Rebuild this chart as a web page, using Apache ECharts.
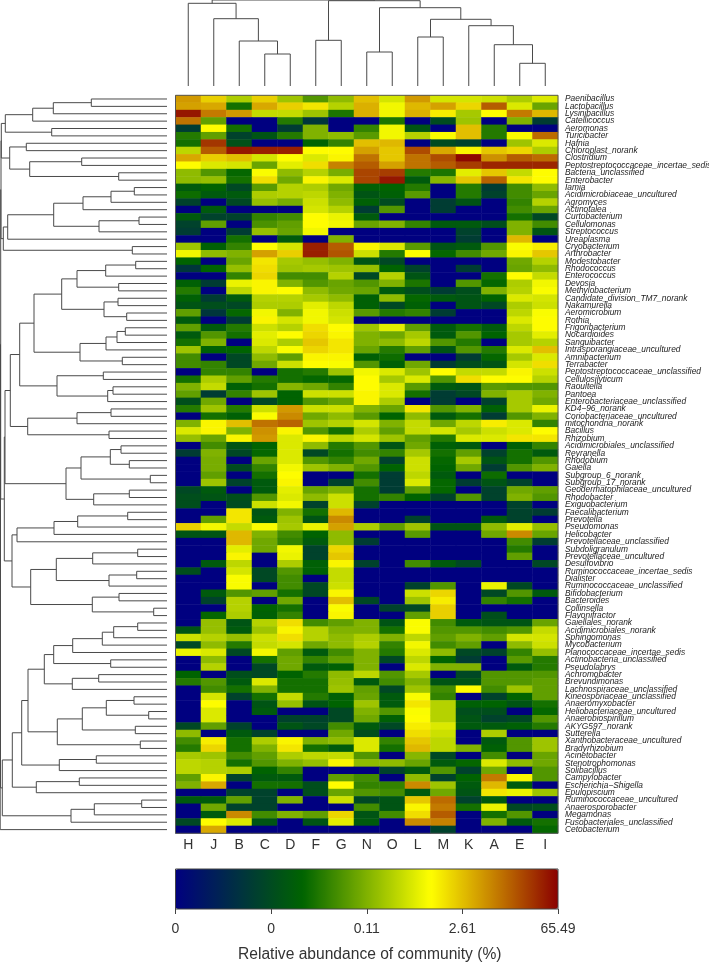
<!DOCTYPE html>
<html>
<head>
<meta charset="utf-8">
<title>Relative abundance of community</title>
<style>
  html, body { margin: 0; padding: 0; background: #fff; }
  #chart { width: 709px; height: 962px; }
</style>
<script src="https://cdn.jsdelivr.net/npm/echarts@6/dist/echarts.min.js"></script>
</head>
<body>
<div id="chart"></div>
<script>
const columns = ['H', 'J', 'B', 'C', 'D', 'F', 'G', 'N', 'O', 'L', 'M', 'K', 'A', 'E', 'I']

const genera = [
  'Paenibacillus', 'Lactobacillus', 'Lysinibacillus', 'Catellicoccus', 'Aeromonas',
  'Turicibacter', 'Hafnia', 'Chloroplast_norank', 'Clostridium', 'Peptostreptococcaceae_incertae_sedis',
  'Bacteria_unclassified', 'Enterobacter', 'Iamia', 'Acidimicrobiaceae_uncultured', 'Agromyces',
  'Actinotalea', 'Curtobacterium', 'Cellulomonas', 'Streptococcus', 'Ureaplasma',
  'Cryobacterium', 'Arthrobacter', 'Modestobacter', 'Rhodococcus', 'Enterococcus',
  'Devosia', 'Methylobacterium', 'Candidate_division_TM7_norank', 'Nakamurella', 'Aeromicrobium',
  'Rothia', 'Frigoribacterium', 'Nocardioides', 'Sanguibacter', 'Intrasporangiaceae_uncultured',
  'Amnibacterium', 'Terrabacter', 'Peptostreptococcaceae_unclassified', 'Cellulosilyticum', 'Raoultella',
  'Pantoea', 'Enterobacteriaceae_unclassified', 'KD4\u221296_norank', 'Coriobacteriaceae_uncultured', 'mitochondria_norank',
  'Bacillus', 'Rhizobium', 'Acidimicrobiales_unclassified', 'Reyranella', 'Rhodobium',
  'Gaiella', 'Subgroup_6_norank', 'Subgroup_17_norank', 'Geodermatophilaceae_uncultured', 'Rhodobacter',
  'Exiguobacterium', 'Faecalibacterium', 'Prevotella', 'Pseudomonas', 'Helicobacter',
  'Prevotellaceae_unclassified', 'Subdoligranulum', 'Prevotellaceae_uncultured', 'Desulfovibrio', 'Ruminococcaceae_incertae_sedis',
  'Dialister', 'Ruminococcaceae_unclassified', 'Bifidobacterium', 'Bacteroides', 'Collinsella',
  'Flavonifractor', 'Gaiellales_norank', 'Acidimicrobiales_norank', 'Sphingomonas', 'Mycobacterium',
  'Planococcaceae_incertae_sedis', 'Actinobacteria_unclassified', 'Pseudolabrys', 'Achromobacter', 'Brevundimonas',
  'Lachnospiraceae_unclassified', 'Kineosporiaceae_unclassified', 'Anaeromyxobacter', 'Heliobacteriaceae_uncultured', 'Anaerobiospirillum',
  'AKYG597_norank', 'Sutterella', 'Xanthobacteraceae_uncultured', 'Bradyrhizobium', 'Acinetobacter',
  'Stenotrophomonas', 'Solibacillus', 'Campylobacter', 'Escherichia\u2212Shigella', 'Epulopiscium',
  'Ruminococcaceae_uncultured', 'Anaerosporobacter', 'Megamonas', 'Fusobacteriales_unclassified', 'Cetobacterium',
]

// position on the colour bar, 0-100, one row per genus
const abundance = [
  [80, 73, 56, 73, 54, 44, 52, 75, 61, 80, 61, 61, 60, 56, 62],
  [79, 78, 36, 78, 73, 70, 57, 77, 65, 76, 79, 72, 88, 62, 47],
  [97, 84, 80, 59, 59, 54, 37, 77, 65, 77, 69, 55, 67, 84, 76],
  [85, 46, 0, 0, 38, 18, 0, 0, 37, 0, 25, 54, 0, 50, 20],
  [20, 67, 36, 0, 20, 50, 0, 40, 65, 28, 0, 75, 38, 0, 0],
  [38, 46, 22, 28, 38, 50, 52, 45, 65, 57, 66, 75, 38, 66, 86],
  [36, 93, 27, 0, 0, 33, 40, 75, 76, 0, 25, 22, 0, 54, 62],
  [58, 88, 97, 96, 96, 67, 67, 79, 74, 90, 78, 68, 74, 72, 56],
  [78, 73, 75, 61, 67, 62, 68, 85, 74, 85, 90, 99, 81, 88, 86],
  [67, 62, 61, 47, 63, 71, 83, 88, 79, 85, 88, 92, 95, 95, 95],
  [52, 44, 34, 66, 52, 57, 49, 91, 92, 38, 37, 63, 74, 59, 67],
  [52, 53, 36, 71, 48, 68, 62, 91, 97, 30, 51, 74, 87, 70, 67],
  [30, 33, 24, 45, 57, 56, 48, 32, 33, 38, 0, 38, 20, 42, 52],
  [35, 30, 30, 56, 57, 58, 50, 28, 32, 45, 0, 38, 22, 42, 47],
  [22, 0, 24, 53, 49, 60, 52, 32, 25, 0, 20, 28, 0, 40, 57],
  [0, 30, 0, 0, 0, 61, 57, 20, 44, 0, 20, 0, 0, 42, 47],
  [30, 22, 22, 40, 42, 67, 64, 30, 0, 0, 0, 0, 0, 36, 24],
  [22, 46, 0, 43, 46, 67, 65, 47, 50, 40, 30, 30, 26, 50, 42],
  [20, 0, 20, 53, 47, 65, 0, 0, 0, 0, 0, 22, 0, 50, 28],
  [0, 0, 36, 0, 30, 0, 50, 0, 0, 0, 0, 20, 0, 76, 0],
  [54, 32, 40, 67, 61, 96, 88, 68, 62, 45, 28, 30, 44, 66, 69],
  [65, 52, 50, 79, 73, 96, 89, 60, 38, 67, 34, 42, 48, 68, 74],
  [33, 0, 47, 70, 55, 53, 50, 28, 24, 0, 0, 0, 0, 48, 57],
  [18, 33, 53, 71, 54, 55, 54, 53, 33, 22, 0, 20, 0, 47, 52],
  [0, 0, 40, 72, 42, 42, 57, 24, 57, 28, 0, 0, 36, 67, 59],
  [32, 20, 64, 68, 50, 44, 47, 44, 50, 37, 0, 44, 34, 56, 65],
  [38, 0, 58, 68, 67, 52, 48, 47, 30, 26, 20, 26, 50, 57, 66],
  [32, 20, 30, 57, 57, 55, 52, 32, 52, 34, 30, 28, 33, 62, 61],
  [28, 26, 24, 56, 56, 63, 58, 32, 24, 32, 0, 28, 24, 56, 60],
  [46, 18, 34, 65, 50, 65, 60, 45, 38, 40, 20, 0, 0, 58, 66],
  [30, 0, 20, 68, 61, 65, 61, 0, 0, 0, 0, 0, 0, 62, 67],
  [46, 30, 38, 60, 57, 71, 67, 54, 63, 46, 30, 36, 30, 58, 67],
  [30, 44, 36, 63, 67, 72, 68, 50, 48, 55, 30, 44, 33, 55, 63],
  [36, 50, 0, 62, 56, 74, 70, 50, 52, 58, 44, 38, 0, 55, 57],
  [54, 32, 33, 58, 66, 72, 70, 47, 38, 46, 28, 44, 38, 62, 75],
  [42, 0, 24, 52, 46, 68, 68, 32, 35, 0, 0, 20, 34, 55, 62],
  [42, 40, 24, 48, 60, 67, 66, 44, 32, 48, 20, 26, 28, 61, 71],
  [0, 40, 40, 0, 36, 38, 54, 65, 62, 54, 67, 59, 59, 68, 60],
  [36, 56, 46, 38, 36, 34, 34, 67, 55, 62, 44, 71, 67, 67, 57],
  [50, 59, 32, 36, 51, 48, 40, 67, 62, 45, 30, 28, 45, 44, 44],
  [46, 20, 40, 54, 33, 60, 60, 68, 62, 36, 20, 24, 50, 55, 50],
  [26, 48, 0, 24, 33, 44, 47, 68, 56, 0, 20, 0, 22, 55, 48],
  [38, 54, 38, 60, 80, 60, 60, 50, 47, 70, 44, 50, 32, 55, 64],
  [0, 36, 32, 66, 82, 48, 52, 45, 33, 52, 30, 36, 20, 44, 50],
  [50, 68, 75, 85, 87, 54, 57, 61, 50, 59, 48, 58, 69, 62, 40],
  [62, 68, 50, 81, 68, 44, 36, 56, 46, 59, 61, 55, 60, 62, 67],
  [53, 47, 68, 80, 62, 68, 58, 61, 54, 46, 38, 62, 62, 70, 70],
  [0, 42, 28, 33, 62, 52, 38, 44, 28, 48, 32, 30, 0, 32, 40],
  [20, 50, 24, 34, 62, 24, 36, 42, 40, 55, 36, 46, 22, 36, 30],
  [0, 49, 0, 47, 62, 44, 40, 48, 22, 60, 34, 55, 28, 36, 44],
  [0, 49, 25, 40, 65, 54, 50, 44, 33, 60, 33, 48, 20, 44, 50],
  [0, 46, 0, 36, 67, 0, 0, 36, 20, 58, 30, 0, 35, 0, 0],
  [0, 54, 22, 30, 68, 0, 22, 42, 20, 62, 34, 20, 28, 22, 0],
  [24, 30, 0, 30, 63, 47, 50, 36, 20, 46, 34, 0, 22, 48, 46],
  [26, 28, 26, 44, 62, 52, 60, 36, 40, 33, 22, 44, 22, 50, 44],
  [26, 0, 25, 60, 65, 22, 60, 22, 0, 0, 0, 0, 0, 22, 0],
  [0, 0, 70, 28, 50, 36, 76, 0, 0, 0, 0, 0, 0, 22, 20],
  [0, 46, 70, 30, 54, 28, 82, 0, 0, 22, 0, 0, 30, 22, 0],
  [73, 65, 59, 66, 55, 64, 79, 56, 46, 54, 28, 28, 52, 63, 53],
  [28, 28, 76, 50, 42, 33, 52, 0, 0, 45, 0, 0, 48, 82, 47],
  [0, 0, 76, 48, 40, 30, 52, 20, 0, 0, 0, 0, 0, 42, 20],
  [0, 0, 63, 48, 65, 22, 72, 0, 0, 0, 0, 0, 0, 38, 0],
  [0, 0, 68, 0, 64, 22, 74, 0, 0, 0, 0, 0, 0, 46, 0],
  [0, 30, 58, 0, 56, 32, 68, 22, 0, 42, 30, 24, 0, 0, 24],
  [26, 0, 61, 24, 44, 32, 59, 0, 0, 0, 0, 0, 0, 0, 0],
  [0, 0, 66, 24, 42, 0, 59, 0, 0, 0, 0, 0, 0, 0, 0],
  [0, 0, 66, 0, 42, 24, 60, 0, 0, 22, 44, 0, 64, 24, 0],
  [0, 30, 44, 46, 36, 24, 68, 0, 0, 60, 72, 0, 24, 44, 30],
  [0, 22, 57, 0, 48, 0, 75, 24, 0, 54, 69, 0, 40, 36, 0],
  [0, 0, 57, 33, 36, 0, 66, 0, 22, 24, 73, 0, 0, 0, 0],
  [0, 34, 56, 32, 40, 0, 68, 0, 0, 46, 73, 0, 26, 0, 0],
  [0, 53, 28, 57, 71, 42, 46, 50, 28, 66, 42, 30, 28, 28, 47],
  [28, 53, 30, 54, 68, 57, 50, 50, 36, 66, 44, 44, 42, 44, 59],
  [60, 57, 53, 60, 71, 57, 52, 56, 50, 58, 46, 50, 46, 61, 61],
  [24, 52, 38, 59, 61, 48, 52, 57, 40, 65, 42, 46, 0, 52, 60],
  [64, 62, 24, 65, 46, 30, 42, 50, 38, 62, 52, 24, 22, 40, 53],
  [0, 52, 0, 36, 48, 40, 46, 50, 24, 58, 33, 20, 0, 45, 38],
  [0, 57, 0, 24, 48, 30, 32, 50, 0, 62, 50, 50, 0, 30, 38],
  [33, 0, 26, 24, 33, 38, 52, 58, 44, 55, 0, 24, 44, 44, 44],
  [38, 44, 30, 62, 36, 36, 53, 30, 42, 50, 28, 28, 44, 44, 46],
  [0, 42, 36, 50, 36, 36, 54, 46, 24, 54, 42, 67, 42, 54, 46],
  [0, 61, 22, 36, 59, 38, 32, 47, 30, 66, 40, 0, 22, 33, 46],
  [0, 67, 0, 28, 53, 28, 33, 54, 30, 70, 57, 32, 33, 28, 36],
  [0, 62, 0, 30, 0, 0, 24, 50, 44, 66, 57, 26, 26, 0, 34],
  [0, 62, 0, 0, 22, 22, 24, 48, 32, 67, 57, 28, 22, 24, 44],
  [24, 46, 22, 0, 28, 24, 42, 30, 24, 69, 62, 30, 30, 32, 38],
  [52, 0, 30, 22, 0, 0, 48, 26, 0, 71, 60, 0, 56, 0, 0],
  [42, 69, 36, 56, 68, 50, 52, 62, 40, 74, 58, 0, 30, 44, 54],
  [38, 72, 36, 50, 70, 36, 30, 62, 36, 76, 58, 50, 32, 44, 54],
  [55, 54, 42, 46, 56, 58, 59, 44, 0, 51, 24, 0, 42, 0, 47],
  [58, 57, 36, 44, 50, 53, 68, 52, 52, 47, 30, 34, 62, 52, 48],
  [58, 57, 56, 33, 40, 0, 0, 0, 22, 30, 44, 22, 48, 0, 44],
  [46, 68, 22, 30, 30, 0, 46, 42, 0, 52, 22, 33, 84, 68, 44],
  [50, 78, 0, 36, 36, 26, 67, 40, 40, 82, 54, 30, 76, 30, 0],
  [0, 0, 22, 22, 0, 26, 47, 44, 42, 30, 48, 28, 70, 64, 54],
  [30, 30, 46, 22, 50, 0, 60, 24, 28, 74, 86, 22, 30, 0, 0],
  [0, 48, 22, 22, 0, 0, 0, 42, 28, 68, 84, 36, 64, 24, 26],
  [0, 30, 82, 42, 50, 46, 72, 28, 42, 71, 88, 0, 36, 44, 0],
  [24, 67, 62, 28, 0, 28, 63, 30, 0, 82, 83, 0, 50, 30, 36],
  [0, 78, 0, 0, 0, 0, 0, 0, 0, 0, 22, 0, 0, 0, 34],
]

const barTicks = [0, 25, 50, 75, 100]
const barTickLabels = ['0', '0', '0.11', '2.61', '65.49']
const barColors = ['#000080', '#006400', '#ffff00', '#8b0000']
const barTitle = 'Relative abundance of community (%)'

// [height, left, right], a plain number is a leaf (row or column index)
const columnTree = [86,
  [82.7, 0, [67.3, 1, [45, 2, [32, 3, 4]]]],
  [85.3,
    [45.7, 5, 6],
    [78.3,
      [34, 7, 8],
      [66.7, [49, 9, 10], [60.3, 11, [41.3, 12, [22.7, 13, 14]]]],
    ],
  ],
]

const rowTree = [166.8,
  [166.5,
    [166.3,
      [166,
        [165.7,
          [161.7,
            [134.3, [113.7, [75.7, 0, 1], 2], 3],
            [115.3, 4, 5],
          ],
          [157.3,
            [140.7, 6, 7],
            [137.3, [85.3, 8, 9], [48.3, 10, 11]],
          ],
        ],
        [163.7,
          [159.3,
            [113.3,
              [84, [56, [32.7, 12, 13], 14], 15],
              [68, [28, 16, 17], 18],
            ],
            19,
          ],
          [34.7, 20, 21],
        ],
      ],
      [162.7,
        [162,
          [156.7,
            [147.3,
              [133,
                [105.3,
                  [90, [61.3, [31.3, 22, 23], 24], [48.3, 25, 26]],
                  [63, [49, 27, 28], [40.3, 29, 30]],
                ],
                [87, [61, [50, [41.7, 31, 32], 33], 34], [44.7, 35, 36]],
              ],
              [110, [63.7, 37, 38], [59.3, [54, 39, 40], 41]],
            ],
            [139.3, [90, [56, 42, 43], 44], [58, 45, 46]],
          ],
          [101,
            [86, [56.7, [46, 47, 48], [37.7, 49, 50]], [16.7, 51, 52]],
            [73.3, [37.7, 53, 54], 55],
          ],
        ],
        [155,
          [150, [113, [89.3, [39.3, 56, 57], 58], 59], 60],
          [136.3,
            [110.7, [74.3, [29.3, 61, 62], 63], [58, [30.3, 64, 65], 66]],
            [74.7, [48, 67, 68], [13.3, 69, 70]],
          ],
        ],
      ],
    ],
    [164.7,
      [154.7,
        [145.3,
          [139,
            [122.7,
              [113.3,
                [94.3, [64.7, [53.3, [29.3, 71, 72], 73], 74], 75],
                [56.3, 76, 77],
              ],
              [94.7, [68.3, 78, 79], 80],
            ],
            [109.7,
              [84.7, [60.7, [33, 81, 82], [18.3, 83, 84]], [31.7, 85, 86]],
              [26.7, 87, 88],
            ],
          ],
          [107.7, [70.7, 89, 90], 91],
        ],
        [130.7, [87.7, 92, 93], 94],
      ],
      [96, [72.7, [25.3, 95, 96], 97], 98],
    ],
  ],
  99,
]

// walk a tree, returns its centre, pushes one bracket per merge
function treeSegments(node, out, toPoint) {
  if (typeof node === 'number') return { pos: node, height: 0 }
  const a = treeSegments(node[1], out, toPoint)
  const b = treeSegments(node[2], out, toPoint)
  out.push({
    coords: [
      toPoint(a.height, a.pos),
      toPoint(node[0], a.pos),
      toPoint(node[0], b.pos),
      toPoint(b.height, b.pos),
    ],
  })
  return { pos: (a.pos + b.pos) / 2, height: node[0] }
}

const columnSegments = []
treeSegments(columnTree, columnSegments, (h, p) => [p, h])
const rowSegments = []
treeSegments(rowTree, rowSegments, (h, p) => [h, p])

const heatData = []
abundance.forEach((row, y) => row.forEach((v, x) => heatData.push([x, y, v])))

const mapLeft = 175.5
const mapTop = 95.3
const mapWidth = 382.5
const mapHeight = 738
const leafEdge = 167
const topTreeHeight = 86
const barTop = 869
const barHeight = 40
const treeLine = { color: '#4a4a4a', width: 1, opacity: 1 }

const chart = echarts.init(document.getElementById('chart'))
chart.setOption({
  animation: false,
  backgroundColor: '#fff',
  textStyle: { fontFamily: '"Liberation Sans", Arial, sans-serif' },
  grid: [
    { left: mapLeft, top: mapTop, width: mapWidth, height: mapHeight, outerBoundsMode: 'none', show: true, z: 5, borderColor: '#555', borderWidth: 1, backgroundColor: 'transparent' },
    { left: mapLeft, top: 0, width: mapWidth, height: topTreeHeight, outerBoundsMode: 'none' },
    { left: 0, top: mapTop, width: leafEdge, height: mapHeight, outerBoundsMode: 'none' },
    { left: mapLeft, top: barTop, width: mapWidth, height: barHeight, outerBoundsMode: 'none', show: true, z: 5, borderColor: '#444', borderWidth: 1, backgroundColor: 'transparent' },
  ],
  xAxis: [
    {
      gridIndex: 0,
      type: 'category',
      data: columns,
      position: 'bottom',
      axisLine: { show: false },
      axisTick: { show: false },
      splitLine: { show: false },
      axisLabel: { color: '#333', fontSize: 14, margin: 5 },
    },
    { gridIndex: 1, type: 'value', min: -0.5, max: 14.5, show: false },
    { gridIndex: 2, type: 'value', min: 0, max: leafEdge, inverse: true, show: false },
    {
      gridIndex: 3,
      type: 'value',
      min: 0,
      max: 100,
      interval: 25,
      position: 'bottom',
      splitLine: { show: false },
      axisLine: { show: false },
      axisTick: { show: true, length: 5, lineStyle: { color: '#444' } },
      axisLabel: {
        color: '#333',
        fontSize: 14,
        margin: 13,
        showMinLabel: true,
        showMaxLabel: true,
        hideOverlap: false,
        formatter: (v) => barTickLabels[barTicks.indexOf(v)],
      },
      name: barTitle,
      nameLocation: 'middle',
      nameGap: 38,
      nameTextStyle: { color: '#333', fontSize: 15.6, padding: [0, 0, 0, 6] },
    },
  ],
  yAxis: [
    {
      gridIndex: 0,
      type: 'category',
      data: genera,
      inverse: true,
      position: 'right',
      axisLine: { show: false },
      axisTick: { show: false },
      splitLine: { show: false },
      axisLabel: { interval: 0, color: '#222', fontSize: 8.4, fontStyle: 'italic', margin: 7 },
    },
    { gridIndex: 1, type: 'value', min: 0, max: topTreeHeight, show: false },
    { gridIndex: 2, type: 'value', min: -0.5, max: genera.length - 0.5, inverse: true, show: false },
    { gridIndex: 3, type: 'value', min: 0, max: 1, show: false },
  ],
  visualMap: {
    type: 'continuous',
    seriesIndex: 0,
    min: 0,
    max: 100,
    orient: 'horizontal',
    left: mapLeft,
    top: barTop,
    padding: 0,
    itemWidth: barHeight,
    itemHeight: mapWidth,
    calculable: false,
    hoverLink: false,
    text: null,
    showLabel: false,
    inRange: { color: barColors },
  },
  series: [
    { type: 'heatmap', xAxisIndex: 0, yAxisIndex: 0, data: heatData, silent: true },
    {
      type: 'lines',
      coordinateSystem: 'cartesian2d',
      xAxisIndex: 1,
      yAxisIndex: 1,
      polyline: true,
      silent: true,
      clip: false,
      lineStyle: treeLine,
      data: columnSegments,
    },
    {
      type: 'lines',
      coordinateSystem: 'cartesian2d',
      xAxisIndex: 2,
      yAxisIndex: 2,
      polyline: true,
      silent: true,
      clip: false,
      lineStyle: treeLine,
      data: rowSegments,
    },
  ],
})
</script>
</body>
</html>
